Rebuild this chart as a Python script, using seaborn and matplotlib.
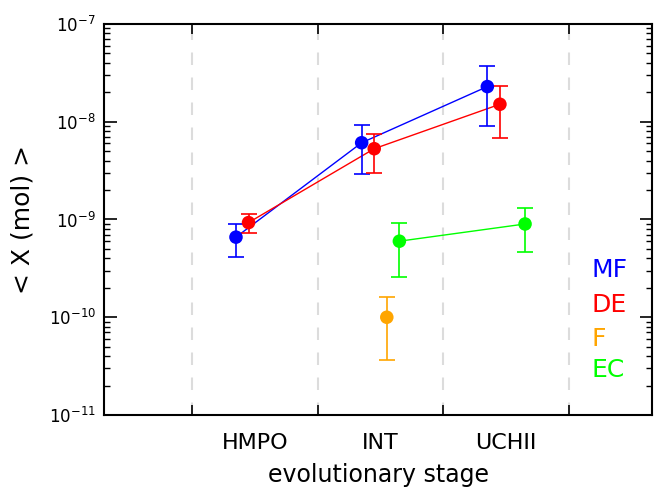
import numpy as np
import pandas as pd
import matplotlib
matplotlib.use("Agg")
import matplotlib.pyplot as plt
import matplotlib.ticker as mticker
import seaborn as sns

stages = ["HMPO", "INT", "UCHII"]
species = ["MF", "DE", "F", "EC"]
colors = {"MF": "#0000ff", "DE": "#ff0000", "F": "#ffa500", "EC": "#00ff00"}
offsets = {"MF": -0.15, "DE": -0.05, "F": 0.05, "EC": 0.15}

# values per species (None = not present)
mf_val = [6.6e-10, 6.1e-9, 2.29e-8]
mf_hi = [9.1e-10, 9.3e-9, 3.7e-8]
mf_lo = [4.1e-10, 2.9e-9, 9.0e-9]

de_val = [9.3e-10, 5.3e-9, 1.51e-8]
de_hi = [1.14e-9, 7.5e-9, 2.3e-8]
de_lo = [7.3e-10, 2.96e-9, 6.9e-9]

f_val = [None, 1.0e-10, None]
f_hi = [None, 1.62e-10, None]
f_lo = [None, 3.66e-11, None]

ec_val = [None, 6.0e-10, 9.0e-10]
ec_hi = [None, 9.3e-10, 1.32e-9]
ec_lo = [None, 2.57e-10, 4.6e-10]

y_exponents = [-11, -10, -9, -8, -7]

series = {
    "MF": (mf_val, mf_lo, mf_hi),
    "DE": (de_val, de_lo, de_hi),
    "F": (f_val, f_lo, f_hi),
    "EC": (ec_val, ec_lo, ec_hi),
}

rows = []
for sp, (v, lo, hi) in series.items():
    for i, st in enumerate(stages):
        if v[i] is not None:
            rows.append(dict(species=sp, stage=st, x=i + 1.5 + offsets[sp],
                             val=v[i], lo=lo[i], hi=hi[i]))
df = pd.DataFrame(rows)

sns.set_theme(style="white")
plt.rcParams["font.family"] = ["DejaVu Sans"]

fig = plt.figure(figsize=(6.57, 4.90), dpi=100)
ax = fig.add_axes([104 / 657, 1 - 415 / 490, (652 - 104) / 657, (415 - 24) / 490])

for xv in [1, 2, 3, 4]:
    ax.axvline(xv, color="#dcdcdc", lw=1.5, ls=(0, (6, 6)), zorder=0)

for sp in species:
    d = df[df.species == sp]
    c = colors[sp]
    if len(d) > 1:
        sns.lineplot(data=d, x="x", y="val", ax=ax, color=c, lw=1, sort=True,
                     legend=False, zorder=2)
    ax.errorbar(d["x"], d["val"], yerr=[d["val"] - d["lo"], d["hi"] - d["val"]],
                fmt="none", ecolor=c, elinewidth=1.2, capsize=6, capthick=1.2, zorder=3)
    sns.scatterplot(data=d, x="x", y="val", ax=ax, color=c, s=95, edgecolor="none",
                    legend=False, zorder=4)

ax.set_yscale("log")
ax.set_ylim(1e-11, 1e-7)
ax.set_xlim(0.3, 4.66)

ax.set_xticks([1, 2, 3, 4])
ax.set_xticklabels([""] * 4)
ax.xaxis.set_minor_locator(mticker.FixedLocator([1.5, 2.5, 3.5]))
ax.xaxis.set_minor_formatter(mticker.FixedFormatter(stages))
ax.tick_params(axis="x", which="major", direction="in", length=7, width=1.2,
               top=True, bottom=True, color="black", labelbottom=False)
ax.tick_params(axis="x", which="minor", length=0, labelsize=16, pad=13, colors="black")

major_y = [10.0 ** e for e in y_exponents]
minor_y = [m * 10.0 ** e for e in y_exponents[:-1] for m in range(2, 10)]
ax.yaxis.set_major_locator(mticker.FixedLocator(major_y))
ax.yaxis.set_minor_locator(mticker.FixedLocator(minor_y))
ax.yaxis.set_major_formatter(mticker.FixedFormatter([r"$10^{%d}$" % e for e in y_exponents]))
ax.yaxis.set_minor_formatter(mticker.NullFormatter())
ax.tick_params(axis="y", which="major", direction="in", length=9, width=1.2,
               left=True, right=True, labelsize=12, pad=6, colors="black")
ax.tick_params(axis="y", which="minor", direction="in", length=4, width=1.0,
               left=True, right=True, colors="black", labelleft=False)

for s in ax.spines.values():
    s.set_color("black")
    s.set_linewidth(1.5)

ax.set_xlabel("evolutionary stage", fontsize=17, labelpad=7, color="black")
ax.set_ylabel("< X (mol) >", fontsize=18, labelpad=10, color="black")

legend_y = [270, 305, 339, 370]
for sp, yp in zip(species, legend_y):
    fig.text(592 / 657, 1 - yp / 490, sp, color=colors[sp], fontsize=18,
             ha="left", va="center")

fig.savefig("out.png", dpi=100)
